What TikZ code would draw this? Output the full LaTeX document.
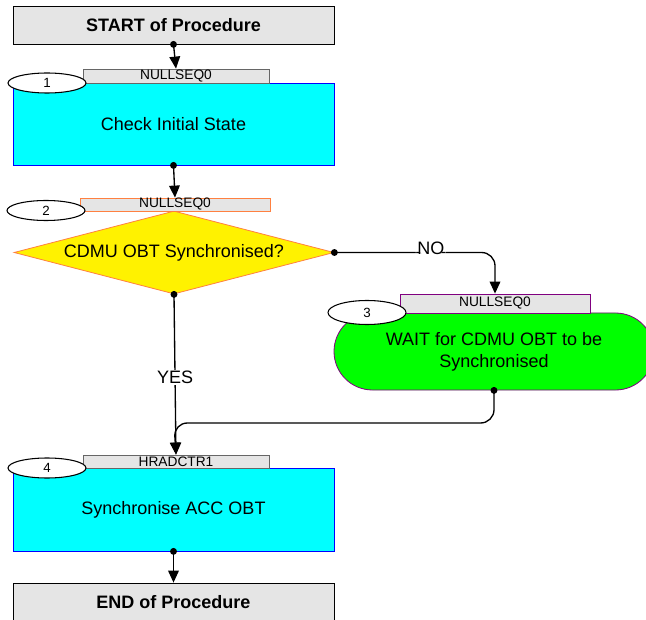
\documentclass[tikz,border=0pt]{standalone}
\usepackage{fontspec}
\setmainfont{Liberation Sans}
\usetikzlibrary{arrows.meta,shapes.geometric,shapes.misc}
\definecolor{lineorange}{RGB}{255,128,64}
\definecolor{linepurple}{RGB}{128,0,128}
\definecolor{actcyan}{RGB}{0,255,255}
\tikzset{
	box/.style={draw,minimum width=240.75pt,inner sep=0pt,line width=0.6pt},
	endbox/.style={box,fill=black!10,minimum height=28.5pt,font=\fontsize{13.5}{16}\selectfont\bfseries},
	actbox/.style={box,fill=actcyan,draw=blue,minimum height=61.5pt,font=\fontsize{13.5}{16}\selectfont},
	tag/.style={draw=#1,fill=black!10,minimum width=139.5pt,minimum height=10.5pt,inner sep=0pt,line width=0.6pt,font=\fontsize{10.3}{12}\selectfont},
	num/.style={ellipse,draw,fill=white,minimum width=58.5pt,minimum height=15pt,inner sep=0pt,line width=0.8pt,font=\fontsize{10}{12}\selectfont},
	flow/.style={line width=1pt,-{Triangle[length=9pt,width=8pt]}},
	lbl/.style={fill=white,inner sep=1pt,font=\fontsize{13.5}{16}\selectfont}
}

\begin{document}
\begin{tikzpicture}[x=0.75pt,y=-0.75pt]
			\useasboundingbox (0,0) rectangle (646,620);
			\node[endbox] (start) at (173.5,25) {START of Procedure};
			\node[actbox] (act1) at (173.5,124) {Check Initial State};
			\node[tag=black!60] (tag1) at (176,76) {NULLSEQ0};
			\node[num] (num1) at (47,83) {1};
			\node[diamond,draw=lineorange,fill=yellow,shape aspect=3.86,minimum width=240pt,minimum height=62.25pt,inner sep=0pt,line width=0.6pt,font=\fontsize{13.5}{16}\selectfont] (dec) at (174,252.5) {CDMU OBT Synchronised?};
			\node[tag=lineorange,minimum width=142.5pt,minimum height=9.75pt] (tag2) at (175,204.5) {NULLSEQ0};
			\node[num] (num2) at (46,210.5) {2};
			\node[rounded rectangle,draw=linepurple,fill=green,minimum width=240pt,minimum height=57.75pt,inner sep=0pt,line width=0.6pt,align=center,font=\fontsize{13.5}{16.5}\selectfont] (wait) at (494,351.5) {WAIT for CDMU OBT to be\\Synchronised};
			\node[tag=linepurple,minimum width=142.5pt,minimum height=14.25pt] (tag3) at (495,303.5) {NULLSEQ0};
			\node[num,minimum height=18pt] (num3) at (367,312.5) {3};
			\node[actbox,minimum height=62.25pt] (act4) at (173.5,509.5) {Synchronise ACC OBT};
			\node[tag=black!60,minimum height=9.75pt] (tag4) at (176,461.5) {HRADCTR1};
			\node[num] (num4) at (47,468) {4};
			\node[endbox] (end) at (173.5,602) {END of Procedure};
			\coordinate (merge) at (174,423);
			\draw[flow] (start.south)--(tag1.north);
			\draw[flow] (act1.south)--(tag2.north);
			\draw[flow,rounded corners=10pt] (dec.east)-|(tag3.north) node[lbl,pos=0.3,yshift=3pt]{NO};
			\draw[flow] (dec.south)--node[lbl,pos=0.52]{YES}(tag4.north);
			\draw[flow,rounded corners=10pt] (wait.south)|-(merge)--(tag4.north);
			\draw[flow] (act4.south)--(end.north);
			\foreach \p in {start.south,act1.south,dec.east,dec.south,wait.south,act4.south}
				\fill (\p) circle (2.6pt);
		\end{tikzpicture}
\end{document}
